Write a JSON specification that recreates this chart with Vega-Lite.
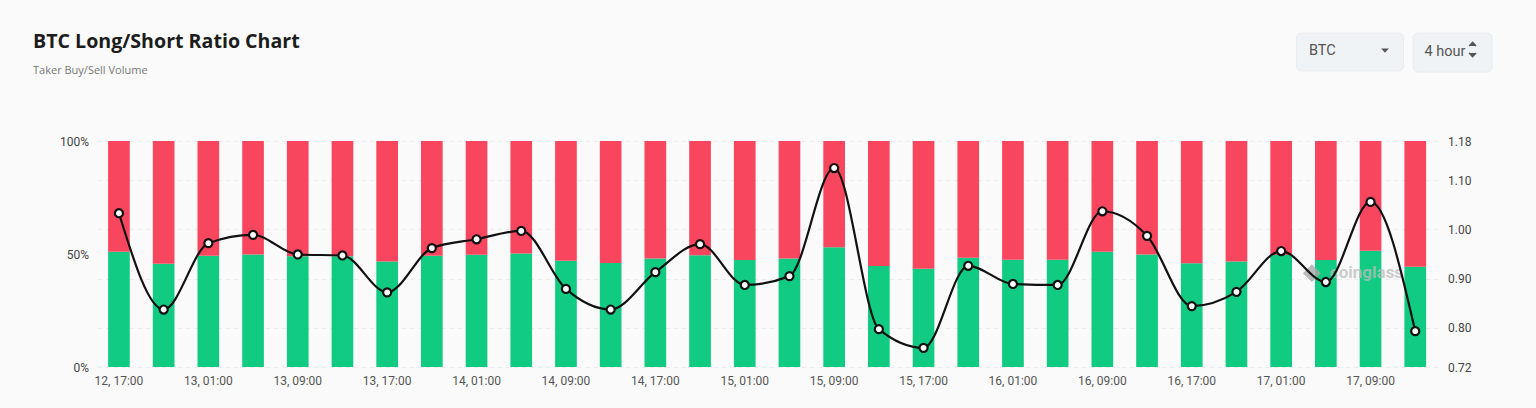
{
 "$schema":"https://vega.github.io/schema/vega-lite/v6.json",
 "width":1341,"height":226,
 "autosize":{"type":"none"},
 "padding":{"left":96.6,"top":141,"right":98.4,"bottom":41},
 "background":"#fafafa",
 "title":{"text":"BTC Long/Short Ratio Chart","subtitle":"Taker Buy/Sell Volume","anchor":"start","frame":"group","dx":-63.6,"offset":-44.5,"font":"Open Sans","fontSize":19.6,"fontWeight":700,"color":"#1c1c1c","subtitleFont":"Open Sans","subtitleFontSize":11,"subtitleColor":"#777777","subtitlePadding":12},
 "config":{"view":{"stroke":null}},
 "datasets":{
  "share":[
{"t":"12, 17:00","side":"long","pct":51},{"t":"12, 17:00","side":"short","pct":49},
{"t":"12, 21:00","side":"long","pct":45.7},{"t":"12, 21:00","side":"short","pct":54.3},
{"t":"13, 01:00","side":"long","pct":49.2},{"t":"13, 01:00","side":"short","pct":50.8},
{"t":"13, 05:00","side":"long","pct":49.8},{"t":"13, 05:00","side":"short","pct":50.2},
{"t":"13, 09:00","side":"long","pct":49},{"t":"13, 09:00","side":"short","pct":51},
{"t":"13, 13:00","side":"long","pct":49},{"t":"13, 13:00","side":"short","pct":51},
{"t":"13, 17:00","side":"long","pct":46.7},{"t":"13, 17:00","side":"short","pct":53.3},
{"t":"13, 21:00","side":"long","pct":49.2},{"t":"13, 21:00","side":"short","pct":50.8},
{"t":"14, 01:00","side":"long","pct":49.7},{"t":"14, 01:00","side":"short","pct":50.3},
{"t":"14, 05:00","side":"long","pct":50.2},{"t":"14, 05:00","side":"short","pct":49.8},
{"t":"14, 09:00","side":"long","pct":47},{"t":"14, 09:00","side":"short","pct":53},
{"t":"14, 13:00","side":"long","pct":46},{"t":"14, 13:00","side":"short","pct":54},
{"t":"14, 17:00","side":"long","pct":48},{"t":"14, 17:00","side":"short","pct":52},
{"t":"14, 21:00","side":"long","pct":49.5},{"t":"14, 21:00","side":"short","pct":50.5},
{"t":"15, 01:00","side":"long","pct":47.3},{"t":"15, 01:00","side":"short","pct":52.7},
{"t":"15, 05:00","side":"long","pct":48},{"t":"15, 05:00","side":"short","pct":52},
{"t":"15, 09:00","side":"long","pct":53},{"t":"15, 09:00","side":"short","pct":47},
{"t":"15, 13:00","side":"long","pct":44.7},{"t":"15, 13:00","side":"short","pct":55.3},
{"t":"15, 17:00","side":"long","pct":43.5},{"t":"15, 17:00","side":"short","pct":56.5},
{"t":"15, 21:00","side":"long","pct":48.3},{"t":"15, 21:00","side":"short","pct":51.7},
{"t":"16, 01:00","side":"long","pct":47.5},{"t":"16, 01:00","side":"short","pct":52.5},
{"t":"16, 05:00","side":"long","pct":47.5},{"t":"16, 05:00","side":"short","pct":52.5},
{"t":"16, 09:00","side":"long","pct":51},{"t":"16, 09:00","side":"short","pct":49},
{"t":"16, 13:00","side":"long","pct":49.8},{"t":"16, 13:00","side":"short","pct":50.2},
{"t":"16, 17:00","side":"long","pct":45.9},{"t":"16, 17:00","side":"short","pct":54.1},
{"t":"16, 21:00","side":"long","pct":46.7},{"t":"16, 21:00","side":"short","pct":53.3},
{"t":"17, 01:00","side":"long","pct":49.6},{"t":"17, 01:00","side":"short","pct":50.4},
{"t":"17, 05:00","side":"long","pct":47.3},{"t":"17, 05:00","side":"short","pct":52.7},
{"t":"17, 09:00","side":"long","pct":51.4},{"t":"17, 09:00","side":"short","pct":48.6},
{"t":"17, 13:00","side":"long","pct":44.4},{"t":"17, 13:00","side":"short","pct":55.6}
  ],
  "ratio":[
{"t":"12, 17:00","r":1.033},{"t":"12, 21:00","r":0.837},{"t":"13, 01:00","r":0.972},{"t":"13, 05:00","r":0.989},{"t":"13, 09:00","r":0.949},{"t":"13, 13:00","r":0.947},{"t":"13, 17:00","r":0.872},{"t":"13, 21:00","r":0.962},{"t":"14, 01:00","r":0.98},{"t":"14, 05:00","r":0.997},{"t":"14, 09:00","r":0.879},{"t":"14, 13:00","r":0.837},{"t":"14, 17:00","r":0.913},{"t":"14, 21:00","r":0.97},{"t":"15, 01:00","r":0.887},{"t":"15, 05:00","r":0.905},{"t":"15, 09:00","r":1.125},{"t":"15, 13:00","r":0.797},{"t":"15, 17:00","r":0.759},{"t":"15, 21:00","r":0.926},{"t":"16, 01:00","r":0.889},{"t":"16, 05:00","r":0.887},{"t":"16, 09:00","r":1.037},{"t":"16, 13:00","r":0.987},{"t":"16, 17:00","r":0.844},{"t":"16, 21:00","r":0.873},{"t":"17, 01:00","r":0.956},{"t":"17, 05:00","r":0.893},{"t":"17, 09:00","r":1.056},{"t":"17, 13:00","r":0.793}
  ]
 },
 "encoding":{
  "x":{"field":"t","type":"nominal","sort":null,"scale":{"paddingInner":0.515,"paddingOuter":0.2575},
   "axis":{"title":null,"labelAngle":0,"domain":false,"ticks":false,"grid":false,"labelFont":"Roboto","labelFontSize":12,"labelColor":"#555555","labelPadding":8,
   "values":["12, 17:00","13, 01:00","13, 09:00","13, 17:00","14, 01:00","14, 09:00","14, 17:00","15, 01:00","15, 09:00","15, 17:00","16, 01:00","16, 09:00","16, 17:00","17, 01:00","17, 09:00"]}}
 },
 "layer":[
  {"data":{"name":"share"},"mark":{"type":"bar"},
   "encoding":{
    "y":{"field":"pct","type":"quantitative","stack":"zero","scale":{"domain":[0,100],"nice":false},"axis":{"orient":"left","title":null,"values":[0,50,100],"labelExpr":"datum.value + '%'","domain":false,"ticks":false,"grid":false,"labelFont":"Roboto","labelFontSize":12,"labelColor":"#444444","labelPadding":8}},
    "color":{"field":"side","type":"nominal","scale":{"domain":["long","short"],"range":["#10cb81","#f9465f"]},"legend":null},
    "order":{"field":"side","sort":"ascending"}}},
  {"layer":[
   {"data":{"values":[{"t":"17, 05:00","r":0.911,"mark":"coinglass"}]},"mark":{"type":"point","shape":"diamond","filled":true,"color":"#a9a9a9","size":320,"opacity":0.8,"xOffset":-14},
    "encoding":{"y":{"field":"r","type":"quantitative","scale":{"domain":[0.72,1.18],"nice":false,"zero":false},"axis":{"orient":"right","title":null,"values":[0.72,0.8,0.9,1.0,1.1,1.18],"format":".2f","domain":false,"ticks":false,"grid":true,"gridColor":"#ececec","gridDash":[4,4],"labelFont":"Roboto","labelFontSize":12,"labelColor":"#444444","labelPadding":10}}}},
   {"data":{"values":[{"t":"17, 05:00","r":0.911,"mark":"coinglass"}]},"mark":{"type":"text","align":"left","dx":4,"font":"Roboto","fontWeight":700,"fontSize":17,"color":"#bdbdbd","opacity":0.75},
    "encoding":{"y":{"field":"r","type":"quantitative"},"text":{"field":"mark"}}},
   {"data":{"name":"ratio"},"mark":{"type":"line","interpolate":"monotone","color":"#111111","strokeWidth":2.2},
    "encoding":{"y":{"field":"r","type":"quantitative"}}},
   {"data":{"name":"ratio"},"mark":{"type":"point","filled":true,"fill":"#ffffff","stroke":"#111111","strokeWidth":2.2,"size":65,"opacity":1},
    "encoding":{"y":{"field":"r","type":"quantitative"}}}
  ]},
  {"data":{"values":[{"t":"17, 13:00","symbol":"BTC","interval":"4 hour"}]},"mark":{"type":"point","size":0,"filled":true},
   "encoding":{
    "shape":{"field":"symbol","type":"nominal","scale":{"range":["M-1,-0.5L1,-0.5L0,0.6Z"]},
     "legend":{"orient":"none","legendX":1199.4,"legendY":-108.5,"title":"BTC","titleOrient":"left","titleFont":"Roboto","titleFontSize":14.5,"titleFontWeight":400,"titleColor":"#555555","titlePadding":44,"labelExpr":"''","labelOffset":0,"symbolSize":60,"symbolFillColor":"#555555","symbolStrokeColor":"#555555","symbolStrokeWidth":0,"symbolOpacity":1,"fillColor":"#f0f3f5","strokeColor":"#e9ecee","cornerRadius":5,"padding":13}},
    "fill":{"field":"interval","type":"nominal","scale":{"range":["#555555"]},
     "legend":{"orient":"none","legendX":1316,"legendY":-108.5,"title":"4 hour","titleOrient":"left","titleFont":"Roboto","titleFontSize":14.5,"titleFontWeight":400,"titleColor":"#555555","titlePadding":2,"labelExpr":"''","labelOffset":0,"symbolType":"M-0.9,-0.9L0,-1.9L0.9,-0.9M-0.9,0.9L0,1.9L0.9,0.9","symbolSize":60,"symbolFillColor":"transparent","symbolStrokeColor":"#555555","symbolStrokeWidth":1.3,"symbolOpacity":1,"fillColor":"#f0f3f5","strokeColor":"#e9ecee","cornerRadius":5,"padding":12}}
   }}
 ],
 "resolve":{"scale":{"y":"independent"}}
}
